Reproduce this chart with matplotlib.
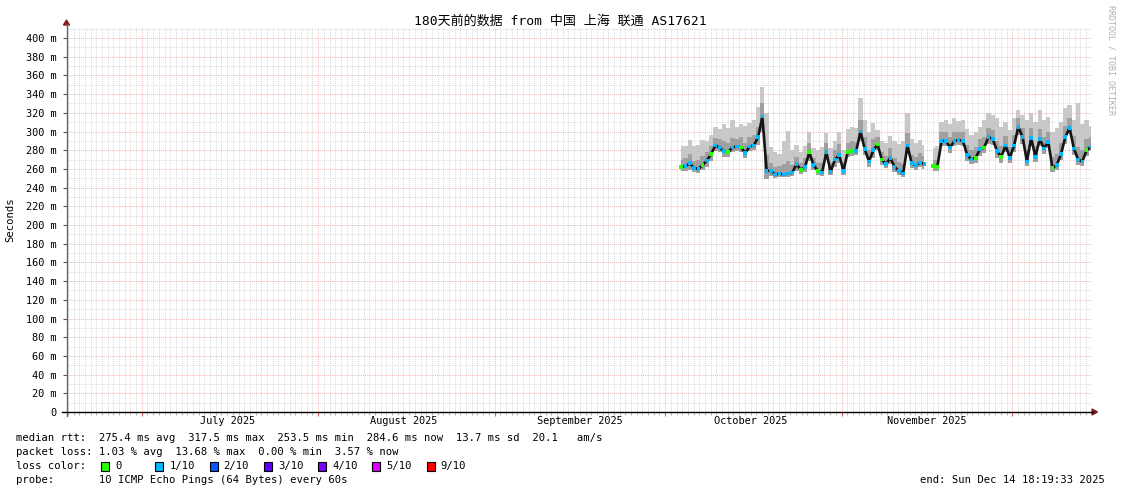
import numpy as np
import pandas as pd
import matplotlib
matplotlib.use('Agg')
import matplotlib.pyplot as plt
import matplotlib.dates as mdates
from matplotlib.patches import Rectangle, Polygon

plt.rcParams['font.family'] = ['DejaVu Sans Mono', 'Noto Sans CJK SC']

# time span of the graph (180 days)
start = pd.Timestamp('2025-06-17 18:19:33')
end = pd.Timestamp('2025-12-14 18:19:33')

# samples: every 18 hours starting Oct 3 2025 (values in ms)
data_start = '2025-10-03 20:00'
n_samples = 97
median = [262, 263, 266, 261, 260, 264, 269, 276, 285, 283,
          279, 278, 283, 284, 283, 277, 284, 285, 294, 316,
          258, 258, 254, 255, 254, 255, 256, 265, 259, 262,
          278, 264, 258, 256, 278, 257, 270, 275, 258, 278,
          279, 279, 300, 281, 268, 280, 286, 270, 265, 272,
          262, 258, 255, 285, 266, 264, 267, 265, np.nan, 263,
          262, 290, 290, 283, 290, 291, 290, 275, 270, 272,
          281, 283, 294, 292, 279, 273, 285, 272, 285, 305,
          294, 268, 293, 273, 292, 282, 289, 261, 264, 276,
          294, 304, 282, 270, 268, 280, 284]
smoke_max = [284, 285, 291, 284, 286, 291, 290, 296, 305, 303,
             308, 304, 312, 305, 308, 306, 309, 312, 326, 348,
             320, 283, 278, 276, 290, 301, 280, 286, 278, 285,
             300, 282, 280, 283, 298, 282, 290, 300, 280, 303,
             305, 304, 336, 312, 300, 309, 302, 290, 288, 295,
             290, 287, 290, 320, 292, 288, 291, 286, np.nan, 282,
             284, 310, 312, 308, 314, 311, 312, 303, 296, 300,
             305, 312, 320, 318, 314, 305, 310, 302, 315, 323,
             318, 312, 320, 310, 323, 312, 316, 300, 304, 310,
             325, 328, 312, 330, 308, 312, 306]
smoke_mid = [270, 272, 276, 268, 270, 274, 278, 285, 293, 292,
             290, 288, 293, 292, 294, 288, 294, 296, 305, 330,
             275, 266, 262, 263, 265, 268, 264, 273, 266, 272,
             288, 272, 266, 266, 288, 266, 280, 287, 266, 288,
             290, 289, 312, 294, 280, 292, 294, 278, 274, 282,
             272, 267, 265, 298, 275, 273, 277, 274, np.nan, 270,
             270, 299, 300, 294, 300, 300, 299, 286, 280, 283,
             292, 294, 304, 302, 290, 284, 295, 283, 296, 314,
             304, 280, 304, 285, 303, 294, 300, 273, 276, 288,
             306, 314, 295, 283, 280, 292, 294]
smoke_min = [258, 258, 259, 257, 256, 259, 262, 268, 279, 278,
             273, 273, 278, 279, 278, 272, 279, 280, 286, 300,
             249, 252, 250, 251, 251, 251, 252, 258, 255, 257,
             268, 259, 253, 252, 270, 253, 262, 266, 254, 273,
             274, 275, 290, 275, 262, 272, 280, 264, 261, 265,
             257, 254, 251, 276, 261, 259, 262, 260, np.nan, 258,
             258, 284, 285, 277, 285, 286, 285, 268, 265, 266,
             274, 277, 287, 286, 272, 266, 278, 266, 278, 296,
             287, 263, 285, 267, 285, 276, 282, 257, 259, 270,
             287, 297, 275, 264, 263, 274, 279]
loss = [0, 1, 1, 1, 1, 0, 1, 0, 1, 1,
        1, 0, 1, 1, 0, 1, 1, 1, 1, 1,
        1, 1, 1, 1, 1, 1, 1, 1, 0, 1,
        0, 1, 0, 1, 1, 1, 1, 1, 1, 0,
        0, 1, 1, 1, 1, 1, 0, 0, 1, 1,
        1, 1, 1, 1, 1, 1, 1, 1, 1, 0,
        0, 1, 1, 1, 1, 1, 1, 1, 1, 0,
        1, 0, 1, 1, 1, 0, 1, 1, 1, 1,
        1, 1, 1, 1, 1, 1, 1, 0, 1, 1,
        1, 1, 1, 1, 1, 0, 1]

loss_labels = ['0', '1/10', '2/10', '3/10', '4/10', '5/10', '9/10']
loss_colors = ['#26ff00', '#00b8ff', '#0059ff', '#5e00ff', '#7e00ff', '#dd00ff', '#ff0000']

month_labels = ['July 2025', 'August 2025', 'September 2025', 'October 2025', 'November 2025']
ytick_vals = list(range(0, 401, 20))

title = '180天前的数据 from 中国 上海 联通 AS17621'
stats_lines = [
    'median rtt:  275.4 ms avg  317.5 ms max  253.5 ms min  284.6 ms now  13.7 ms sd  20.1   am/s',
    'packet loss: 1.03 % avg  13.68 % max  0.00 % min  3.57 % now',
]
probe_text = 'probe:       10 ICMP Echo Pings (64 Bytes) every 60s'
end_text = 'end: Sun Dec 14 18:19:33 2025'

W, H = 1121, 494
fig = plt.figure(figsize=(W / 100, H / 100), dpi=100)


def fx(px):
    return px / W


def fy(py):
    return 1 - py / H


ax_l, ax_r, ax_t, ax_b = 66.5, 1090.5, 27, 412
ax = fig.add_axes([fx(ax_l), fy(ax_b), fx(ax_r - ax_l), (ax_b - ax_t) / H])

t = mdates.date2num(pd.date_range(data_start, periods=n_samples, freq='18h'))
med = np.array(median, dtype=float)

# smoke (light = full spread, darker = inner part) and median
ax.fill_between(t, smoke_min, smoke_max, step='mid', color='#c8c8c8', lw=0, zorder=2)
ax.fill_between(t, smoke_min, smoke_mid, step='mid', color='#a0a0a0', lw=0, zorder=3)
ax.plot(t, med, color='#151515', lw=1.9, zorder=4)
ax.scatter(t, med, marker='s', s=7, c=[loss_colors[k] for k in loss], lw=0, zorder=5)

ax.set_xlim(mdates.date2num(start), mdates.date2num(end))
ax.set_ylim(0, 411.8)

# grid
ax.xaxis.set_major_locator(mdates.MonthLocator())
ax.xaxis.set_minor_locator(mdates.DayLocator())
ax.yaxis.set_major_locator(matplotlib.ticker.FixedLocator(ytick_vals))
ax.yaxis.set_minor_locator(matplotlib.ticker.MultipleLocator(10))
ax.grid(which='minor', color='#dadada', lw=0.7, ls=(0, (1, 1)), zorder=0)
ax.grid(which='major', color='#f2b4b4', lw=0.7, ls=(0, (1, 1)), zorder=1)
ax.set_axisbelow(True)

ax.set_yticklabels(['0' if v == 0 else '%d m' % v for v in ytick_vals], fontsize=7.4)
ax.tick_params(axis='y', which='major', length=3, width=0.8, color='#555555', pad=4)
ax.tick_params(axis='y', which='minor', length=0)
ax.tick_params(axis='x', which='major', length=3, width=0.8, color='#e06060', labelbottom=False)
ax.tick_params(axis='x', which='minor', length=2, width=0.6, color='#aaaaaa')

for s in ax.spines.values():
    s.set_visible(False)

# month labels at the middle of each month
for i, lab in enumerate(month_labels):
    mid = pd.Timestamp(2025, 7 + i, 16)
    ax.text(mdates.date2num(mid), -4.5, lab, ha='center', va='top', fontsize=7.4)

# axis lines with arrows
fig.add_artist(plt.Line2D([fx(ax_l), fx(ax_l)], [fy(416), fy(24)], color='#666666', lw=1))
fig.add_artist(plt.Line2D([fx(62), fx(1093)], [fy(ax_b), fy(ax_b)], color='#000000', lw=1))
fig.add_artist(Polygon([[fx(63.5), fy(25)], [fx(69.5), fy(25)], [fx(66.5), fy(20)]],
                       closed=True, color='#7f1f1f', transform=fig.transFigure))
fig.add_artist(Polygon([[fx(1092), fy(409)], [fx(1092), fy(415)], [fx(1097.5), fy(412)]],
                       closed=True, color='#7f1f1f', transform=fig.transFigure))

# texts
fig.text(fx(560.5), fy(21), title, ha='center', va='center', fontsize=9.4)
fig.text(fx(10), fy(220), 'Seconds', rotation=90, ha='center', va='center', fontsize=7.6)
fig.text(fx(1111), fy(5), 'RRDTOOL / TOBI OETIKER', rotation=-90, ha='center', va='top',
         fontsize=6, color='#b0b0b0')

for i, line in enumerate(stats_lines):
    fig.text(fx(16), fy(438 + 14 * i), line, ha='left', va='center', fontsize=7.6)

fig.text(fx(16), fy(466), 'loss color:', ha='left', va='center', fontsize=7.6)
for i, (lab, col) in enumerate(zip(loss_labels, loss_colors)):
    x0 = 101 + 54.3 * i
    fig.add_artist(Rectangle((fx(x0), fy(471)), fx(8), 9 / H, facecolor=col,
                             edgecolor='black', lw=0.8, transform=fig.transFigure))
    fig.text(fx(x0 + 14), fy(466), lab, ha='left', va='center', fontsize=7.6)

fig.text(fx(16), fy(480), probe_text, ha='left', va='center', fontsize=7.6)
fig.text(fx(1105), fy(480), end_text, ha='right', va='center', fontsize=7.6)

fig.savefig('out.png', dpi=100)
